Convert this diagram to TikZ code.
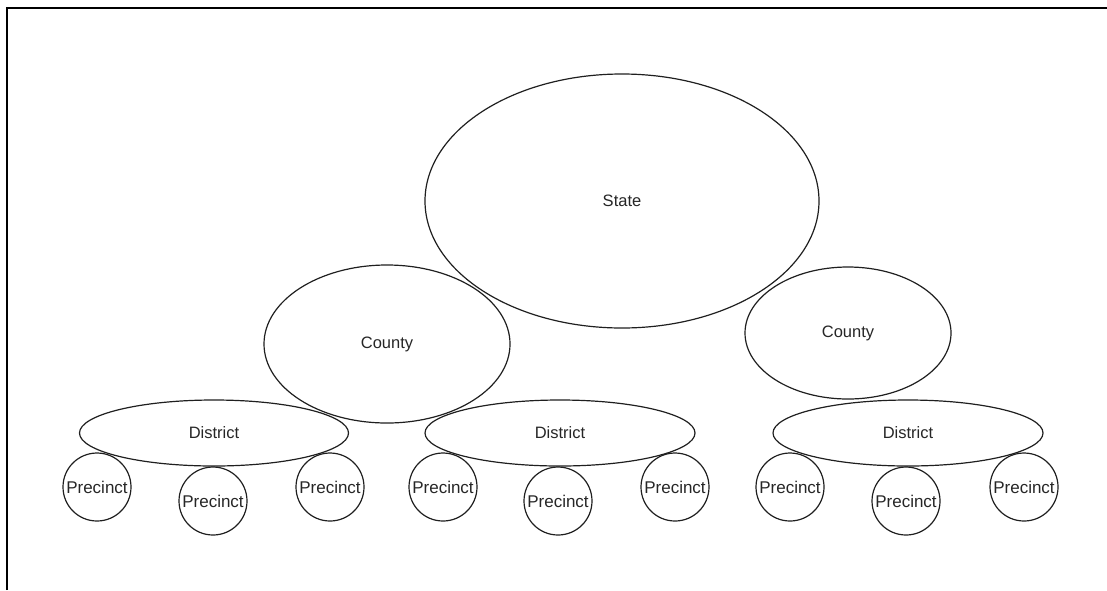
\documentclass[tikz,border=0pt]{standalone}
\usepackage{fontspec}
\setmainfont{Liberation Sans}
\usetikzlibrary{shapes.geometric}
\tikzset{
  shp/.style={draw=black!88, line width=1.2pt, inner sep=0pt, text=black!85},
  oval/.style={shp, ellipse, font=\fontsize{16.5}{19}\selectfont},
  prec/.style={shp, circle, minimum size=68pt, font=\fontsize{17}{20}\selectfont},
}
\begin{document}
\begin{tikzpicture}[x=1pt,y=-1pt]
\useasboundingbox (0,0) rectangle (1107,590);
\draw[line width=2pt, black] (7,590) -- (7,8) -- (1107,8);
\node[oval, minimum width=394pt, minimum height=254pt] (state) at (622,201) {State};
\node[oval, minimum width=246pt, minimum height=158pt] (countyA) at (387,344) {County};
\node[oval, minimum width=206pt, minimum height=132pt] (countyB) at (848,333) {County};
\node[oval, minimum width=269pt, minimum height=66pt] (distA) at (214,433) {District};
\node[oval, minimum width=270pt, minimum height=66pt] (distB) at (560,433) {District};
\node[oval, minimum width=270pt, minimum height=66pt] (distC) at (908,433) {District};
\node[prec] (p1) at (97,487) {Precinct};
\node[prec] (p2) at (213,501) {Precinct};
\node[prec] (p3) at (330,487) {Precinct};
\node[prec] (p4) at (443,487) {Precinct};
\node[prec] (p5) at (558,501) {Precinct};
\node[prec] (p6) at (675,487) {Precinct};
\node[prec] (p7) at (790,487) {Precinct};
\node[prec] (p8) at (906,501) {Precinct};
\node[prec] (p9) at (1024,487) {Precinct};
\end{tikzpicture}
\end{document}
